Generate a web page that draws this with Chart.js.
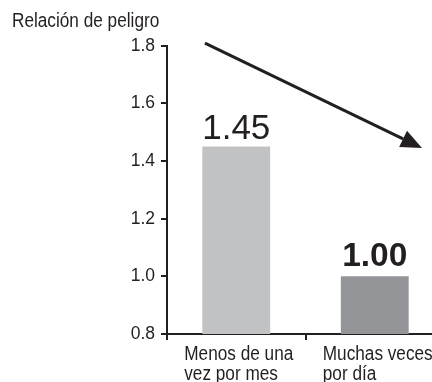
<!DOCTYPE html>
<html>
<head>
<meta charset="utf-8">
<script src="https://cdn.jsdelivr.net/npm/chart.js@4"></script>
<style>
  html, body { margin: 0; padding: 0; background: #fff; overflow: hidden; }
  #wrap { position: relative; width: 444px; height: 382px; }
</style>
</head>
<body>
<div id="wrap"><canvas id="chart"></canvas></div>
<script>
// datos
const categories = [['Menos de una', 'vez por mes'], ['Muchas veces', 'por día']];
const hazardRatios = [1.45, 1.00];
const yTickValues = [0.8, 1.0, 1.2, 1.4, 1.6, 1.8];
const axisTitle = 'Relación de peligro';
// flecha de tendencia, en unidades de los ejes (índice de categoría, relación)
const trendFrom = { x: -0.226, y: 1.809 };
const trendTo = { x: 1.341, y: 1.445 };

// estilos
const ink = '#231f20';
const barColors = ['#c1c2c4', '#939598'];
const sans = "'Liberation Sans', Arial, sans-serif";
const condense = 0.86; // texto estrecho: fuente normal comprimida en horizontal
const valueLabelStyle = [
    { font: '35px ' + sans, gap: 8 },
    { font: 'bold 33.5px ' + sans, gap: 10 }
];

// escribe texto comprimido horizontalmente desde (x, y)
function narrowText(ctx, text, x, y) {
    ctx.save();
    ctx.translate(x, y);
    ctx.scale(condense, 1);
    ctx.fillText(text, 0, 0);
    ctx.restore();
}

const overlay = {
    id: 'overlay',
    afterDraw(chart) {
        const { ctx, chartArea } = chart;
        const xs = chart.scales.x;
        const ys = chart.scales.y;
        const bars = chart.getDatasetMeta(0).data;
        ctx.save();
        ctx.fillStyle = ink;
        ctx.strokeStyle = ink;

        // título del eje y
        ctx.font = '20px ' + sans;
        ctx.textAlign = 'left';
        ctx.textBaseline = 'alphabetic';
        narrowText(ctx, axisTitle, 12, 27);

        // valores sobre las barras
        ctx.textAlign = 'center';
        bars.forEach((bar, i) => {
            const st = valueLabelStyle[i];
            ctx.font = st.font;
            ctx.fillText(hazardRatios[i].toFixed(2), bar.x, bar.y - st.gap);
        });

        // etiquetas de categoría, alineadas a la izquierda
        ctx.font = '20px ' + sans;
        ctx.textAlign = 'left';
        categories.forEach((lines, i) => {
            const left = xs.getPixelForValue(i) - 52;
            lines.forEach((line, j) => {
                narrowText(ctx, line, left, chartArea.bottom + 25.5 + j * 20.5);
            });
        });

        // flecha
        const x0 = xs.getPixelForValue(trendFrom.x), y0 = ys.getPixelForValue(trendFrom.y);
        const x1 = xs.getPixelForValue(trendTo.x), y1 = ys.getPixelForValue(trendTo.y);
        const ang = Math.atan2(y1 - y0, x1 - x0);
        const headLen = 21, headHalf = 9;
        const bx = x1 - headLen * Math.cos(ang), by = y1 - headLen * Math.sin(ang);
        ctx.lineWidth = 3;
        ctx.beginPath();
        ctx.moveTo(x0, y0);
        ctx.lineTo(bx, by);
        ctx.stroke();
        ctx.beginPath();
        ctx.moveTo(x1, y1);
        ctx.lineTo(bx - headHalf * Math.sin(ang), by + headHalf * Math.cos(ang));
        ctx.lineTo(bx + headHalf * Math.sin(ang), by - headHalf * Math.cos(ang));
        ctx.closePath();
        ctx.fill();
        ctx.restore();
    }
};

new Chart(document.getElementById('chart'), {
    type: 'bar',
    data: {
        labels: categories,
        datasets: [{
            data: hazardRatios,
            backgroundColor: barColors,
            barPercentage: 0.49,
            categoryPercentage: 1
        }]
    },
    options: {
        responsive: true,
        maintainAspectRatio: false,
        animation: false,
        layout: { padding: { top: 45.7, right: 0, bottom: 42, left: 0 } },
        plugins: {
            legend: { display: false },
            tooltip: { enabled: false }
        },
        scales: {
            x: {
                ticks: { display: false },
                grid: { offset: true, drawOnChartArea: false, tickLength: 6, lineWidth: 2, color: ink },
                border: { color: ink, width: 2 }
            },
            y: {
                min: 0.8,
                max: 1.8,
                afterBuildTicks: s => { s.ticks = yTickValues.map(v => ({ value: v })); },
                afterFit: s => { s.width = 167; },
                ticks: {
                    padding: 6,
                    color: ink,
                    font: { family: sans, size: 17.5 },
                    callback: v => v.toFixed(1)
                },
                grid: { drawOnChartArea: false, tickLength: 6, lineWidth: 2, color: ink },
                border: { color: ink, width: 2 }
            }
        }
    },
    plugins: [overlay]
});
</script>
</body>
</html>
